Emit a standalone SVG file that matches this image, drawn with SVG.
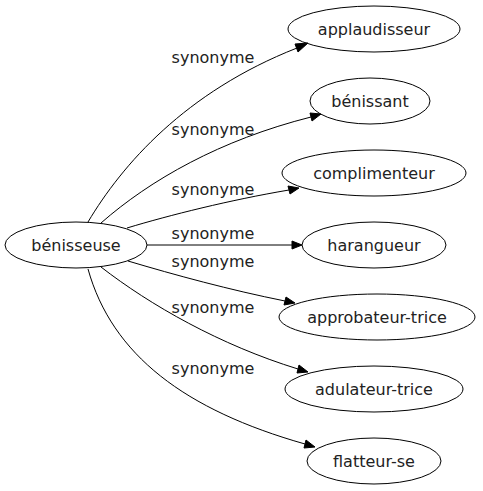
<svg xmlns="http://www.w3.org/2000/svg" width="483" height="491" viewBox="0 0 483 491">
<style>
.n ellipse{fill:none;stroke:#000;stroke-width:1}
text{font-family:"DejaVu Sans",sans-serif;font-size:16px;fill:#222}
.n text{text-anchor:middle}
.e path{fill:none;stroke:#000;stroke-width:1}
.e polygon{fill:#000;stroke:#000}
.l{text-anchor:middle}
</style>
<rect width="483" height="491" fill="#fff"/>
<g id="edges" class="e">
<path d="M88,222 C122,165 185,92 297,48"/><polygon points="308,43 298,52 295,44"/>
<path d="M101,223 C150,180 220,140 311,117"/><polygon points="321,114 312,121 310,113"/>
<path d="M127,228 C170,215 230,200 289,190"/><polygon points="299,188 290,194 288,186"/>
<path d="M147,245 L292,245"/><polygon points="302,245 292,249 292,241"/>
<path d="M128,261 C175,275 230,290 285,301"/><polygon points="295,303 284,305 286,297"/>
<path d="M101,267 C150,305 220,345 298,369"/><polygon points="308,372 297,373 299,365"/>
<path d="M88,269 C112,355 185,410 305,444"/><polygon points="315,447 304,448 306,440"/>
<text class="l" x="213" y="63">synonyme</text>
<text class="l" x="213" y="135">synonyme</text>
<text class="l" x="213" y="195">synonyme</text>
<text class="l" x="213" y="239">synonyme</text>
<text class="l" x="213" y="267">synonyme</text>
<text class="l" x="213" y="313">synonyme</text>
<text class="l" x="213" y="374">synonyme</text>
</g>
<g id="n0" class="n"><ellipse cx="76" cy="245" rx="71" ry="23"/><text x="76" y="251">bénisseuse</text></g>
<g id="n1" class="n"><ellipse cx="374" cy="29" rx="86" ry="23"/><text x="374" y="35">applaudisseur</text></g>
<g id="n2" class="n"><ellipse cx="370" cy="101" rx="60" ry="23"/><text x="370" y="107">bénissant</text></g>
<g id="n3" class="n"><ellipse cx="374" cy="173" rx="92" ry="23"/><text x="374" y="179">complimenteur</text></g>
<g id="n4" class="n"><ellipse cx="374" cy="245" rx="72" ry="23"/><text x="374" y="251">harangueur</text></g>
<g id="n5" class="n"><ellipse cx="377" cy="317" rx="98" ry="23"/><text x="377" y="323">approbateur-trice</text></g>
<g id="n6" class="n"><ellipse cx="374" cy="389" rx="89" ry="23"/><text x="374" y="395">adulateur-trice</text></g>
<g id="n7" class="n"><ellipse cx="374" cy="461" rx="67" ry="23"/><text x="374" y="467">flatteur-se</text></g>
</svg>
